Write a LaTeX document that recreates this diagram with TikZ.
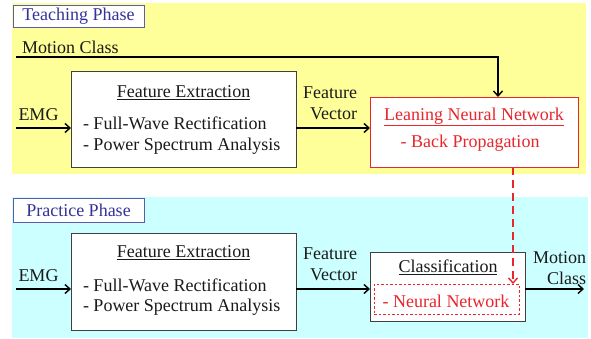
\documentclass[tikz,border=0pt]{standalone}
\usepackage{fontspec}
\setmainfont{Liberation Serif}
\usetikzlibrary{arrows.meta}
\definecolor{panelY}{HTML}{FFFF99}
\definecolor{panelC}{HTML}{CCFFFF}
\definecolor{phaseBlue}{HTML}{333399}
\definecolor{nnred}{HTML}{E8262B}
\definecolor{txt}{HTML}{1A1A1A}
\tikzset{
  x=1pt, y=-1pt,
  every node/.style={font=\fontsize{18}{21}\selectfont, text=txt, inner sep=0pt, outer sep=0pt},
  phasebox/.style={draw=phaseBlue!80, fill=white, line width=0.8pt, text=phaseBlue},
  box/.style={draw=black!75, fill=white, line width=0.8pt},
  redbox/.style={draw=nnred, fill=white, line width=0.8pt},
  inbox/.style={draw=nnred, dashed, dash pattern=on 2.5pt off 2pt, line width=0.7pt},
  flow/.style={line width=1.6pt, -{Straight Barb[length=5pt,width=9pt,line width=1.4pt]}},
  redflow/.style={line width=1.6pt, draw=nnred, dash pattern=on 8pt off 5pt, -{Straight Barb[length=5pt,width=9pt,line width=1.4pt]}},
  redtxt/.style={text=nnred}
}
\begin{document}
\begin{tikzpicture}
\useasboundingbox (0,0) rectangle (591,339);
\fill[white] (0,0) rectangle (591,339);
% panels
\fill[panelY] (12,3) rectangle (586,174);
\fill[panelC] (12,197) rectangle (588,338);
% phase labels
\node[phasebox, minimum width=131pt, minimum height=22pt] (tp) at (78.5,16) {Teaching Phase};
\node[phasebox, minimum width=131pt, minimum height=24pt] (pp) at (78.5,210) {Practice Phase};

% ---------- Teaching phase ----------
\node[box, minimum width=225pt, minimum height=96pt] (fe1) at (183.5,119) {};
\node (fe1t) at (183.5,93) {\underline{Feature Extraction}};
\node[anchor=west] (fe1a) at (83,123) {- Full-Wave Rectification};
\node[anchor=west] (fe1b) at (83,146) {- Power Spectrum Analysis};

\node[redbox, minimum width=208pt, minimum height=70pt] (lnn) at (474,132) {};
\node[redtxt] (lnnt) at (474,117) {\underline{Leaning Neural Network}};
\node[redtxt] (lnnb) at (470,143) {- Back Propagation};

\coordinate (emg1s) at (16,128);
\node (emg1) at (38.5,115) {EMG};
\draw[flow] (emg1s) -- (emg1s -| fe1.west);

\node[align=right, anchor=east] (fv1) at (357,103.5) {Feature\\Vector};
\draw[flow] (fe1.east |- emg1s) -- (lnn.west |- emg1s);

\coordinate (mc1s) at (16,57);
\coordinate (mc1c) at (498,57);
\node[anchor=west] (mc1) at (22,47) {Motion Class};
\draw[flow] (mc1s) -- (mc1c) -- (mc1c |- lnn.north);

% ---------- Practice phase ----------
\node[box, minimum width=225pt, minimum height=97pt] (fe2) at (183.5,281.5) {};
\node (fe2t) at (183.5,253) {\underline{Feature Extraction}};
\node[anchor=west] (fe2a) at (83,285) {- Full-Wave Rectification};
\node[anchor=west] (fe2b) at (83,307) {- Power Spectrum Analysis};

\node[box, minimum width=155pt, minimum height=69pt] (cls) at (447.5,286.5) {};
\node (clst) at (448,267) {\underline{Classification}};
\node[inbox, minimum width=145pt, minimum height=30pt] (nn) at (446.5,299) {};
\node[redtxt] (nnt) at (446,301) {- Neural Network};

\coordinate (emg2s) at (16,289);
\node (emg2) at (38.5,276) {EMG};
\draw[flow] (emg2s) -- (emg2s -| fe2.west);

\node[align=right, anchor=east] (fv2) at (357,264.5) {Feature\\Vector};
\draw[flow] (fe2.east |- emg2s) -- (cls.west |- emg2s);

\coordinate (out2) at (584,289);
\draw[flow] (cls.east |- out2) -- (out2);
\node[align=right, anchor=east] (mc2) at (586,268) {Motion\\Class};

% teaching -> practice
\coordinate (bp) at (513,167);
\draw[redflow] (bp) -- (bp |- nn.north);
\end{tikzpicture}
\end{document}
